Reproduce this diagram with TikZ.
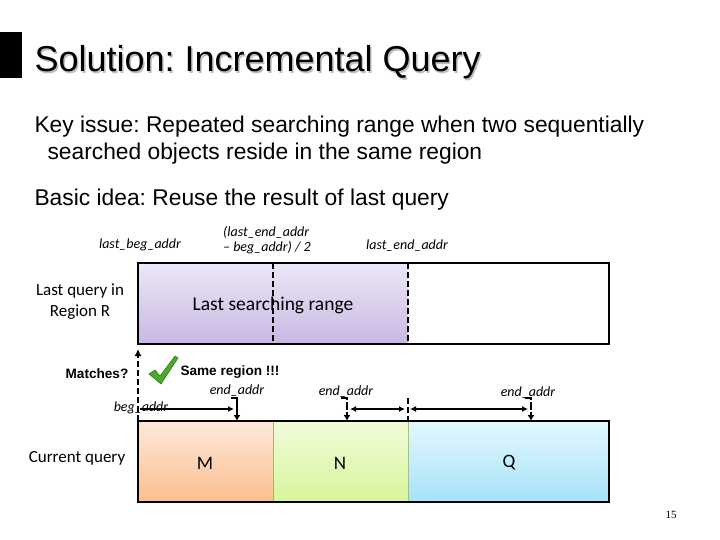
\documentclass[tikz,border=0pt]{standalone}
\usepackage{fontspec}
\setmainfont{Liberation Sans}
\newfontfamily\calibri{Carlito}
\newfontfamily\timesfont{Liberation Serif}
\usetikzlibrary{arrows.meta}
\frenchspacing

\definecolor{purpTop}{RGB}{237,231,247}
\definecolor{purpBot}{RGB}{200,184,226}
\definecolor{orTop}{RGB}{253,233,219}
\definecolor{orBot}{RGB}{251,190,142}
\definecolor{grTop}{RGB}{242,251,218}
\definecolor{grBot}{RGB}{214,245,155}
\definecolor{blTop}{RGB}{227,248,254}
\definecolor{blBot}{RGB}{166,226,247}
\definecolor{tick}{RGB}{76,168,40}
\definecolor{tickdark}{RGB}{52,120,28}

\tikzset{
  body/.style={anchor=base west,font=\fontsize{22.8}{26}\selectfont},
  lbl/.style={font=\calibri\fontsize{17}{21}\selectfont,align=center},
  addr/.style={font=\calibri\itshape\fontsize{14}{15.5}\selectfont},
  boldlbl/.style={font=\bfseries\fontsize{13.6}{16}\selectfont},
  frame/.style={line width=2.5pt},
  cut/.style={line width=2.5pt,dash pattern=on 6pt off 3pt},
  ptr/.style={line width=1.8pt,-{Latex[length=6pt,width=6pt]}},
  twoway/.style={line width=1.8pt,{Latex[length=6pt,width=6pt]}-{Latex[length=6pt,width=6pt]}},
  endmark/.style={line width=2.2pt,-{Latex[length=6pt,width=7pt]}},
}

\begin{document}
\begin{tikzpicture}[x=1pt,y=-1pt]
\useasboundingbox (0,0) rectangle (720,540);

% title
\fill (0,32) rectangle (22,78);
\node[anchor=base west,font=\fontsize{36}{40}\selectfont,text=black!25] at (32.5,73.5) {Solution: Incremental Query};
\node[anchor=base west,font=\fontsize{36}{40}\selectfont] (title) at (31,72) {Solution: Incremental Query};

% text
\node[body] (issue) at (31,133) {Key issue: Repeated searching range when two sequentially};
\node[body] (issuecont) at (44,160) {searched objects reside in the same region};
\node[body] (idea) at (31,206) {Basic idea: Reuse the result of last query};

% last query
\shade[top color=purpTop,bottom color=purpBot] (138,263) rectangle (408,344);
\draw[cut] (273,263) -- (273,344);
\draw[cut] (408,263) -- (408,344);
\draw[frame] (138,263) rectangle (609,344);
\node[lbl] (lastq) at (80,302) {Last query in\\Region R};
\node[font=\calibri\fontsize{19.5}{22}\selectfont] (lastrange) at (273,305) {Last searching range};
\node[addr] (lastbeg) at (140,245) {last\_beg\_addr};
\node[addr,align=left] (half) at (267,240) {(last\_end\_addr\\– beg\_addr) / 2};
\node[addr] (lastend) at (407,246) {last\_end\_addr};

% current query
\shade[top color=orTop,bottom color=orBot] (138,421) rectangle (273,502);
\shade[top color=grTop,bottom color=grBot] (273,421) rectangle (408,502);
\shade[top color=blTop,bottom color=blBot] (408,421) rectangle (609,502);
\draw[line width=1pt,color={rgb,255:red,196;green,164;blue,104}] (273,421) -- (273,502);
\draw[line width=1pt,color={rgb,255:red,160;green,196;blue,130}] (408,421) -- (408,502);
\draw[frame] (138,421) rectangle (609,502);
\node[lbl] (curq) at (77,458) {Current query};
\node[font=\calibri\fontsize{19}{22}\selectfont] (regM) at (205,463) {M};
\node[font=\calibri\fontsize{19}{22}\selectfont] (regN) at (340,463) {N};
\node[font=\calibri\fontsize{19}{22}\selectfont] (regQ) at (509,463) {Q};

% matching
\coordinate (up0) at (138,421);
\coordinate (up1) at (138,349);
\draw[cut,-{Latex[length=7pt,width=7pt]}] (up0) -- (up1);
\node[boldlbl] (match) at (97,374) {Matches?};
\filldraw[fill=tick,draw=tickdark,line width=0.6pt] (149,374) -- (155,370) -- (160,376) -- (175,356) -- (178,358) -- (161,384) -- cycle;
\node[boldlbl] (same) at (230,372) {Same region !!!};

% end_addr markers
\coordinate (begA) at (140,409);
\coordinate (endA) at (234,409);
\coordinate (mkA0) at (231,398);
\coordinate (mkA1) at (237,421);
\coordinate (mkB0) at (341,398);
\coordinate (mkB1) at (347,421);
\coordinate (midB0) at (350,409);
\coordinate (midB1) at (405,409);
\coordinate (cut0) at (408,398);
\coordinate (cut1) at (408,421);
\coordinate (midC0) at (410,409);
\coordinate (midC1) at (528,409);
\coordinate (mkC0) at (525,398);
\coordinate (mkC1) at (531,421);

\node[addr] (beg) at (141,408) {beg\_addr};
\draw[ptr] (begA) -- (endA);
\draw[endmark] (mkA0) -| (mkA1);
\draw[endmark,dash pattern=on 8pt off 2pt] (mkB0) -| (mkB1);
\draw[twoway] (midB0) -- (midB1);
\draw[cut] (cut0) -- (cut1);
\draw[twoway] (midC0) -- (midC1);
\draw[endmark,dash pattern=on 8pt off 2pt] (mkC0) -| (mkC1);
\node[addr] (endlblA) at (237,391) {end\_addr};
\node[addr] (endlblB) at (346,392) {end\_addr};
\node[addr] (endlblC) at (528,393) {end\_addr};

% page number
\node[font=\timesfont\fontsize{11}{12}\selectfont] (page) at (671,515) {15};
\end{tikzpicture}
\end{document}
